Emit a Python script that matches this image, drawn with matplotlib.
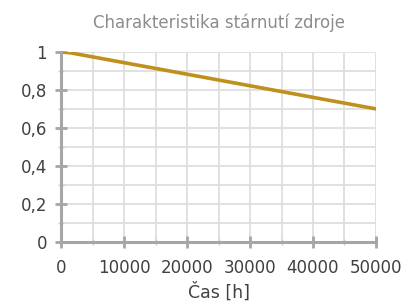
import matplotlib

matplotlib.use("Agg")
import matplotlib.pyplot as plt
from matplotlib.ticker import MultipleLocator, FuncFormatter

# aging characteristic
hours = [0, 1500, 50000]
capacity = [1.0, 0.995, 0.70]

x_ticks = [0, 10000, 20000, 30000, 40000, 50000]
y_ticks = [0, 0.2, 0.4, 0.6, 0.8, 1.0]

fig = plt.figure(figsize=(4.1, 3.07), dpi=100)
ax = fig.add_axes([0.149, 0.212, 0.768, 0.619])

ax.plot(hours, capacity, color="#C0901C", linewidth=2.6, solid_capstyle="round")

ax.set_xlim(0, 50000)
ax.set_ylim(0, 1)
ax.set_xticks(x_ticks)
ax.set_yticks(y_ticks)
ax.xaxis.set_minor_locator(MultipleLocator(5000))
ax.yaxis.set_minor_locator(MultipleLocator(0.1))
ax.yaxis.set_major_formatter(FuncFormatter(lambda v, _: f"{v:g}".replace(".", ",")))

ax.grid(True, which="both", color="#DEDEDE", linewidth=1.3)
ax.set_axisbelow(True)

for side in ("top", "right"):
    ax.spines[side].set_visible(False)
for side in ("left", "bottom"):
    ax.spines[side].set_color("#A6A6A6")
    ax.spines[side].set_linewidth(2.2)

ax.tick_params(which="major", direction="inout", length=8, width=2, color="#A6A6A6",
               labelsize=12, labelcolor="#404040")
ax.tick_params(which="minor", direction="inout", length=4, width=1, color="#C8C8C8")
ax.tick_params(axis="x", pad=8)
ax.tick_params(axis="y", pad=6)

ax.set_title("Charakteristika stárnutí zdroje", color="#8C8C8C", fontsize=12, pad=17)
ax.set_xlabel("Čas [h]", color="#404040", fontsize=12.5, labelpad=4)

fig.savefig("out.png", dpi=100)
